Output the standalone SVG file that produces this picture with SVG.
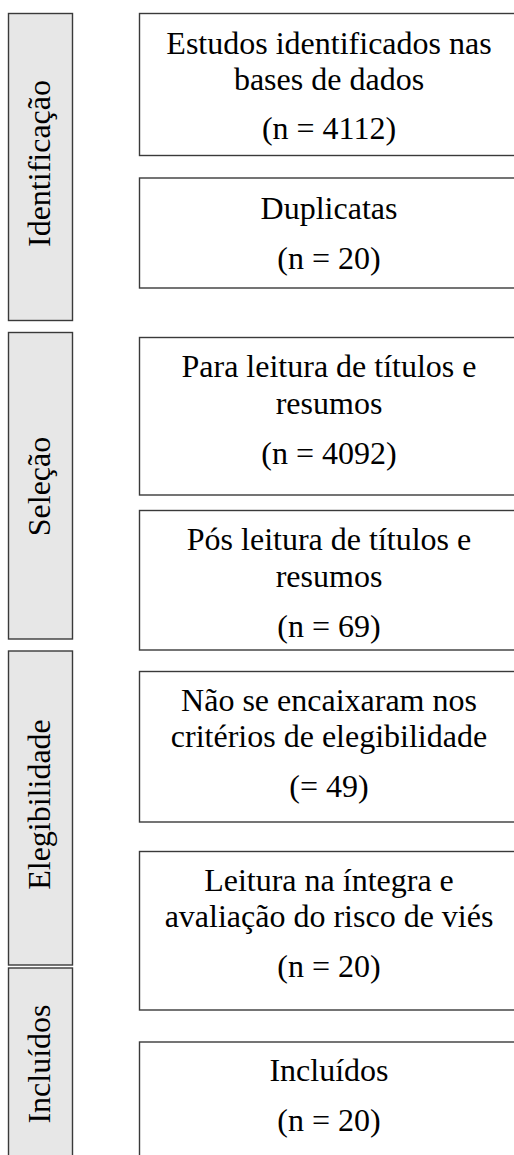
<svg xmlns="http://www.w3.org/2000/svg" width="514" height="1155" viewBox="0 0 514 1155">
<style>
.box{fill:#ffffff;stroke:#3a3a3a;stroke-width:1.4}
.bar{fill:#e7e7e7;stroke:#3a3a3a;stroke-width:1.4}
text{font-family:"Liberation Serif","Times New Roman",serif;font-size:32px;fill:#000;text-anchor:middle}
</style>
<rect width="514" height="1155" fill="#ffffff"/>
<g id="connectors"/>
<g id="stage-identificacao">
<rect class="bar" x="8.5" y="13.5" width="64" height="307"/>
<text transform="translate(50,163.5) rotate(-90)">Identificação</text>
</g>
<g id="stage-selecao">
<rect class="bar" x="8.5" y="332.5" width="64" height="306.5"/>
<text transform="translate(50,486.5) rotate(-90)">Seleção</text>
</g>
<g id="stage-elegibilidade">
<rect class="bar" x="8.5" y="651" width="64" height="314"/>
<text transform="translate(50,804.5) rotate(-90)">Elegibilidade</text>
</g>
<g id="stage-incluidos">
<rect class="bar" x="8.5" y="968" width="64" height="200"/>
<text transform="translate(50,1064) rotate(-90)">Incluídos</text>
</g>
<g id="box-estudos">
<rect class="box" x="139.5" y="13.5" width="390" height="142"/>
<text x="329" y="54">Estudos identificados nas</text>
<text x="329" y="89.5">bases de dados</text>
<text x="329" y="139">(n = 4112)</text>
</g>
<g id="box-duplicatas">
<rect class="box" x="139.5" y="178" width="390" height="110"/>
<text x="329" y="218.5">Duplicatas</text>
<text x="329" y="268.5">(n = 20)</text>
</g>
<g id="box-para-leitura">
<rect class="box" x="139.5" y="337.5" width="390" height="157.5"/>
<text x="329" y="377">Para leitura de títulos e</text>
<text x="329" y="414">resumos</text>
<text x="329" y="464">(n = 4092)</text>
</g>
<g id="box-pos-leitura">
<rect class="box" x="139.5" y="510.5" width="390" height="139.5"/>
<text x="329" y="549.5">Pós leitura de títulos e</text>
<text x="329" y="586.5">resumos</text>
<text x="329" y="636.5">(n = 69)</text>
</g>
<g id="box-nao-encaixaram">
<rect class="box" x="139.5" y="671.5" width="390" height="150.5"/>
<text x="329" y="711">Não se encaixaram nos</text>
<text x="329" y="747">critérios de elegibilidade</text>
<text x="329" y="797">(= 49)</text>
</g>
<g id="box-leitura-integra">
<rect class="box" x="139.5" y="851.5" width="390" height="158.5"/>
<text x="329" y="891">Leitura na íntegra e</text>
<text x="329" y="927">avaliação do risco de viés</text>
<text x="329" y="977">(n = 20)</text>
</g>
<g id="box-incluidos">
<rect class="box" x="139.5" y="1042" width="390" height="130"/>
<text x="329" y="1081">Incluídos</text>
<text x="329" y="1131">(n = 20)</text>
</g>
</svg>
